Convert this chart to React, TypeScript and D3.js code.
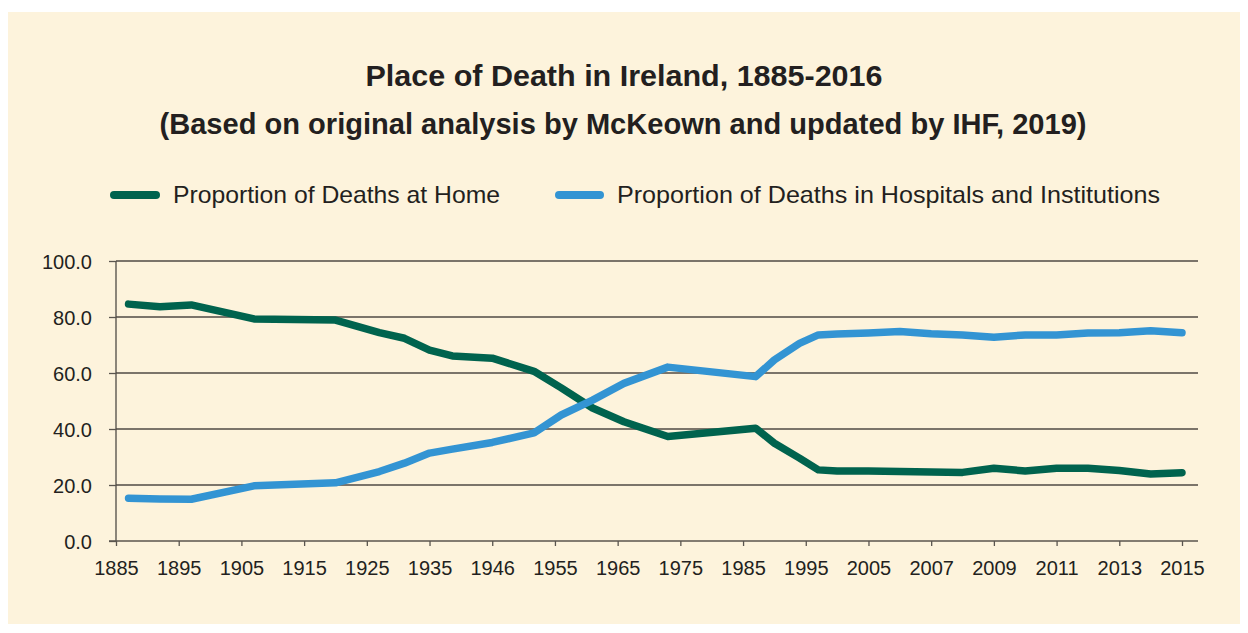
import { useRef, useEffect } from 'react';
import { scaleLinear, scalePoint, axisBottom, axisLeft, select, line, curveLinear } from 'd3';

const tickYears = [1885, 1895, 1905, 1915, 1925, 1935, 1946, 1955, 1965, 1975, 1985, 1995, 2005, 2007, 2009, 2011, 2013, 2015];

const years = [1887, 1892, 1897, 1907, 1920, 1927, 1931, 1935, 1939, 1946, 1952, 1956, 1961, 1966, 1973, 1987, 1990, 1994, 1997, 2000, 2005, 2006, 2007, 2008, 2009, 2010, 2011, 2012, 2013, 2014, 2015];

const home = [84.6, 83.7, 84.3, 79.3, 78.9, 74.4, 72.4, 68.2, 66.1, 65.3, 60.6, 54.7, 47.5, 42.6, 37.3, 40.3, 34.9, 29.6, 25.4, 25.0, 25.0, 24.8, 24.6, 24.5, 26.0, 25.0, 26.0, 26.0, 25.2, 23.9, 24.4];

const hospital = [15.3, 15.0, 14.9, 19.7, 20.8, 24.8, 27.8, 31.4, 32.8, 35.2, 38.6, 45.0, 50.3, 56.3, 62.1, 58.7, 64.7, 70.6, 73.6, 73.9, 74.3, 74.8, 74.0, 73.6, 72.8, 73.6, 73.6, 74.3, 74.4, 75.1, 74.4];

const yTicks = [0, 20, 40, 60, 80, 100];

const seriesNames = ['Proportion of Deaths at Home', 'Proportion of Deaths in Hospitals and Institutions'];

const W = 1248;
const H = 633;
const left = 116;
const right = 1198;
const top = 261;
const bottom = 541;
const GREEN = '#00634e';
const BLUE = '#3394d3';
const INK = '#231f20';
const FONT = '"Liberation Sans", Arial, sans-serif';

const App = () => {
  const xAxisRef = useRef<SVGGElement>(null);
  const yAxisRef = useRef<SVGGElement>(null);

  // tick labels are evenly spaced categories; years in between map piecewise
  const tickScale = scalePoint<string>()
    .domain(tickYears.map(String))
    .range([left, 1182]);
  const x = scaleLinear()
    .domain(tickYears)
    .range(tickYears.map((t) => tickScale(String(t)) as number));
  const y = scaleLinear().domain([0, 100]).range([bottom, top]);

  const lineGen = line<number>()
    .x((_, i) => x(years[i]))
    .y((d) => y(d))
    .curve(curveLinear);

  useEffect(() => {
    if (xAxisRef.current) {
      const g = select(xAxisRef.current);
      g.selectAll('*').remove();
      g.call(axisBottom(tickScale).tickSize(5).tickPadding(15));
      g.select('.domain').remove();
      g.selectAll('line').attr('stroke', '#5a554e').attr('stroke-width', 1.3);
      g.selectAll('text')
        .attr('fill', INK)
        .style('font-family', FONT)
        .style('font-size', '20px');
    }
    if (yAxisRef.current) {
      const g = select(yAxisRef.current);
      g.selectAll('*').remove();
      g.call(
        axisLeft(y)
          .tickValues(yTicks)
          .tickFormat((d) => Number(d).toFixed(1))
          .tickSize(7)
          .tickPadding(17)
      );
      g.select('.domain').remove();
      g.selectAll('line').attr('stroke', '#5a554e').attr('stroke-width', 1.3);
      g.selectAll('text')
        .attr('fill', INK)
        .attr('dy', '0.36em')
        .style('font-family', FONT)
        .style('font-size', '20px');
    }
  }, []);

  return (
    <svg
      width={W}
      height={H}
      style={{ position: 'absolute', left: 0, top: 0, display: 'block' }}
    >
      <rect x={0} y={0} width={W} height={H} fill="#ffffff" />
      <rect x={8} y={12} width={1232} height={612} fill="#fdf3dc" />

      <text
        x={624}
        y={86}
        textAnchor="middle"
        fill={INK}
        fontFamily={FONT}
        fontWeight="bold"
        fontSize={29}
        textLength={517}
        lengthAdjust="spacingAndGlyphs"
      >
        Place of Death in Ireland, 1885-2016
      </text>
      <text
        x={623}
        y={134}
        textAnchor="middle"
        fill={INK}
        fontFamily={FONT}
        fontWeight="bold"
        fontSize={29}
        textLength={927}
        lengthAdjust="spacingAndGlyphs"
      >
        (Based on original analysis by McKeown and updated by IHF, 2019)
      </text>

      <g>
        <line x1={114} x2={156} y1={195} y2={195} stroke={GREEN} strokeWidth={8} strokeLinecap="round" />
        <text x={173} y={203} fill={INK} fontFamily={FONT} fontSize={24} textLength={327} lengthAdjust="spacingAndGlyphs">
          {seriesNames[0]}
        </text>
        <line x1={559} x2={600} y1={195} y2={195} stroke={BLUE} strokeWidth={8} strokeLinecap="round" />
        <text x={617} y={203} fill={INK} fontFamily={FONT} fontSize={24} textLength={543} lengthAdjust="spacingAndGlyphs">
          {seriesNames[1]}
        </text>
      </g>

      {yTicks
        .filter((t) => t > 0)
        .map((t) => (
          <line key={t} x1={left} x2={right} y1={y(t)} y2={y(t)} stroke="#4f4a44" strokeWidth={1.3} />
        ))}
      <line x1={left} x2={left} y1={top} y2={bottom} stroke="#4f4a44" strokeWidth={1.3} />
      <line x1={109} x2={right} y1={bottom} y2={bottom} stroke="#5a554e" strokeWidth={1.3} />

      <g ref={xAxisRef} transform={`translate(0,${bottom})`} />
      <g ref={yAxisRef} transform={`translate(${left},0)`} />

      <path d={lineGen(home) || ''} fill="none" stroke={GREEN} strokeWidth={7.5} strokeLinejoin="round" strokeLinecap="round" />
      <path d={lineGen(hospital) || ''} fill="none" stroke={BLUE} strokeWidth={7.5} strokeLinejoin="round" strokeLinecap="round" />
    </svg>
  );
};

export default App;
